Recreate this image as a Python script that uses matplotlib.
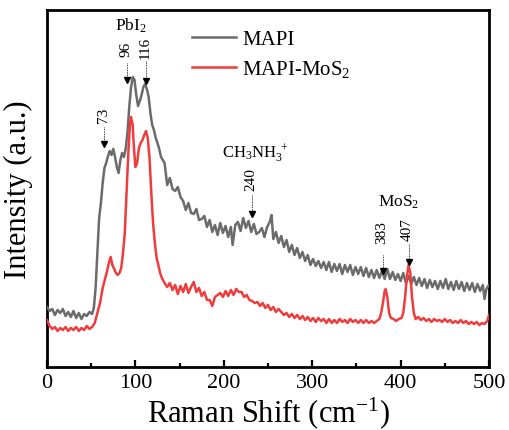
import matplotlib
matplotlib.use("Agg")
import matplotlib.pyplot as plt
from matplotlib.ticker import MultipleLocator

plt.rcParams['font.family'] = ['Liberation Serif', 'DejaVu Serif']
plt.rcParams['mathtext.fontset'] = 'custom'
plt.rcParams['mathtext.rm'] = 'Liberation Serif'
plt.rcParams['mathtext.it'] = 'Liberation Serif:italic'

# Raman spectra (arbitrary intensity units)
mapi_shift = [0, 3, 6, 9, 12, 15, 18, 21, 24, 27, 30, 33, 36, 39, 42, 45, 48, 51, 53, 55,
              57, 59, 61, 63, 65, 67, 69, 71, 73, 75, 77, 79, 81, 83, 85, 87, 89, 91, 93, 95,
              97, 99, 101, 103, 105, 107, 109, 111, 113, 115, 117, 119, 121, 123, 125, 127, 129, 131, 133, 136,
              139, 142, 145, 148, 151, 154, 157, 160, 163, 166, 169, 172, 175, 178, 181, 184, 187, 190, 193, 196,
              199, 202, 205, 208, 210, 213, 216, 219, 222, 225, 228, 231, 234, 237, 240, 243, 246, 249, 252, 254,
              256, 259, 262, 265, 268, 271, 274, 277, 280, 283, 286, 289, 292, 295, 298, 301, 304, 307, 310, 313,
              316, 319, 322, 325, 328, 331, 334, 337, 340, 343, 346, 349, 352, 355, 358, 361, 364, 367, 370, 373,
              376, 379, 382, 385, 388, 391, 394, 397, 400, 403, 406, 409, 412, 415, 418, 421, 424, 427, 430, 433,
              436, 439, 442, 445, 448, 451, 454, 457, 460, 463, 466, 469, 472, 475, 478, 481, 484, 487, 490, 493,
              495, 497, 500]
mapi_int = [58, 54, 56, 50, 55, 52, 56, 49, 53, 48, 54, 47, 52, 46, 51, 49, 53, 51, 57, 77,
            112, 147, 162, 182, 197, 202, 209, 214, 210, 216, 208, 198, 192, 205, 212, 208, 216, 232, 257, 277,
            288, 285, 270, 259, 264, 270, 278, 281, 276, 268, 252, 240, 235, 227, 222, 216, 208, 205, 202, 180,
            187, 176, 174, 178, 168, 164, 155, 162, 152, 151, 156, 145, 146, 149, 138, 145, 133, 140, 130, 142,
            132, 139, 128, 138, 120, 140, 143, 134, 147, 137, 144, 133, 141, 131, 133, 137, 128, 138, 143, 150,
            126, 133, 122, 129, 118, 125, 113, 120, 110, 117, 107, 113, 104, 110, 100, 106, 99, 104, 97, 103,
            95, 103, 93, 101, 94, 101, 91, 100, 93, 100, 90, 98, 91, 98, 89, 97, 88, 95, 87, 95,
            87, 94, 86, 96, 86, 93, 85, 91, 84, 92, 82, 89, 81, 88, 80, 87, 79, 86, 77, 85,
            78, 84, 76, 84, 77, 86, 76, 83, 75, 84, 76, 83, 74, 82, 75, 82, 73, 81, 74, 80,
            66, 76, 80]

mos2_shift = [0, 3, 6, 9, 12, 15, 18, 21, 24, 27, 30, 33, 36, 39, 42, 45, 48, 51, 54, 57,
              60, 63, 66, 68, 70, 72, 74, 76, 78, 80, 82, 84, 86, 88, 90, 92, 94, 95, 97, 98,
              100, 102, 104, 106, 108, 110, 112, 114, 116, 118, 120, 122, 124, 126, 128, 130, 133, 136, 139, 142,
              145, 148, 151, 154, 157, 160, 163, 166, 169, 172, 175, 178, 181, 184, 187, 190, 193, 196, 199, 202,
              205, 208, 211, 214, 217, 220, 223, 226, 229, 232, 235, 238, 241, 244, 247, 250, 253, 256, 259, 262,
              265, 268, 271, 274, 277, 280, 283, 286, 289, 292, 295, 298, 301, 304, 307, 310, 313, 316, 319, 322,
              325, 328, 331, 334, 337, 340, 343, 346, 349, 352, 355, 358, 361, 364, 367, 370, 373, 376, 378, 380,
              382, 383, 385, 387, 389, 392, 395, 398, 401, 403, 405, 407, 409, 411, 413, 415, 417, 420, 423, 426,
              429, 432, 435, 438, 441, 444, 447, 450, 453, 456, 459, 462, 465, 468, 471, 474, 477, 480, 483, 486,
              489, 492, 495, 498, 500]
mos2_int = [45, 39, 36, 38, 34, 37, 35, 38, 34, 37, 35, 38, 34, 37, 35, 39, 36, 38, 42, 52,
            62, 77, 87, 94, 102, 108, 100, 96, 92, 90, 92, 97, 112, 132, 172, 212, 242, 248, 240, 222,
            198, 202, 217, 222, 225, 230, 234, 227, 207, 172, 142, 122, 107, 100, 92, 87, 82, 78, 82, 75,
            80, 71, 79, 73, 81, 72, 78, 83, 73, 77, 69, 73, 65, 65, 59, 68, 70, 72, 68, 74,
            69, 75, 70, 76, 73, 73, 68, 70, 65, 64, 62, 63, 59, 62, 57, 60, 55, 58, 53, 56,
            53, 50, 52, 48, 51, 47, 50, 46, 49, 45, 48, 44, 47, 43, 47, 44, 46, 42, 46, 42,
            45, 42, 46, 43, 45, 42, 46, 43, 45, 42, 45, 42, 45, 42, 44, 42, 44, 46, 52, 62,
            74, 76, 68, 52, 47, 46, 44, 46, 47, 52, 67, 87, 100, 92, 67, 52, 46, 48, 45, 47,
            44, 46, 43, 46, 44, 45, 43, 46, 43, 45, 42, 44, 42, 45, 42, 44, 41, 43, 41, 43,
            40, 42, 41, 44, 50]

series_labels = ['MAPI', 'MAPI-MoS$_2$']
series_colors = ['#6b6b6b', '#f03c3c']

# Peak markers: label text, arrow x, label centre y, dotted line top, arrow tip
peak_labels = ['73', '96', '116', '240', '383', '407']
peak_arrow_x = [65, 90, 112, 232, 380, 409]
peak_text_y = [251, 317, 318, 186, 133, 136]
peak_line_top = [238, 302, 304, 170, 110, 121]
peak_tip = [218, 282, 281, 148, 91, 100]

fig = plt.figure(figsize=(5.09, 4.31), dpi=100)
ax = fig.add_axes([0.0923, 0.1462, 0.8684, 0.8283])

ax.plot(mapi_shift, mapi_int, color=series_colors[0], lw=1.8, label=series_labels[0], zorder=3)
ax.plot(mos2_shift, mos2_int, color=series_colors[1], lw=1.8, label=series_labels[1], zorder=4)

for lab, xa, ty, lt, tip in zip(peak_labels, peak_arrow_x, peak_text_y, peak_line_top, peak_tip):
    ax.plot([xa, xa], [lt, tip + 5], color='black', lw=0.6, ls=(0, (1, 1)), zorder=5)
    ax.plot([xa], [tip + 3], marker='v', color='black', markersize=5, zorder=6, lw=0)
    ax.text(xa - 1, ty, lab, rotation=90, ha='center', va='center', fontsize=11)

ax.text(95, 340, 'PbI$_2$', ha='center', va='center', fontsize=12.5)
ax.text(235, 212, 'CH$_3$NH$_3^{\\ +}$', ha='center', va='center', fontsize=12)
ax.text(398, 164, 'MoS$_2$', ha='center', va='center', fontsize=12.5)

ax.set_xlim(0, 500)
ax.set_ylim(-2, 355)
ax.xaxis.set_major_locator(MultipleLocator(100))
ax.xaxis.set_minor_locator(MultipleLocator(50))
ax.set_yticks([])
ax.tick_params(axis='x', which='major', direction='in', length=5, width=1.6, labelsize=16, pad=4)
ax.tick_params(axis='x', which='minor', direction='in', length=3, width=1.6)
for sp in ax.spines.values():
    sp.set_linewidth(2)

ax.set_xlabel('Raman Shift (cm$^{-1}$)', fontsize=22, labelpad=2)
ax.set_ylabel('Intensity (a.u.)', fontsize=22, labelpad=10)

ax.legend(loc='upper left', bbox_to_anchor=(0.328, 0.946), frameon=False, fontsize=15,
          handlelength=2.1, handletextpad=0.3, labelspacing=0.45, borderpad=0, borderaxespad=0)

fig.savefig('out.png', dpi=100)
